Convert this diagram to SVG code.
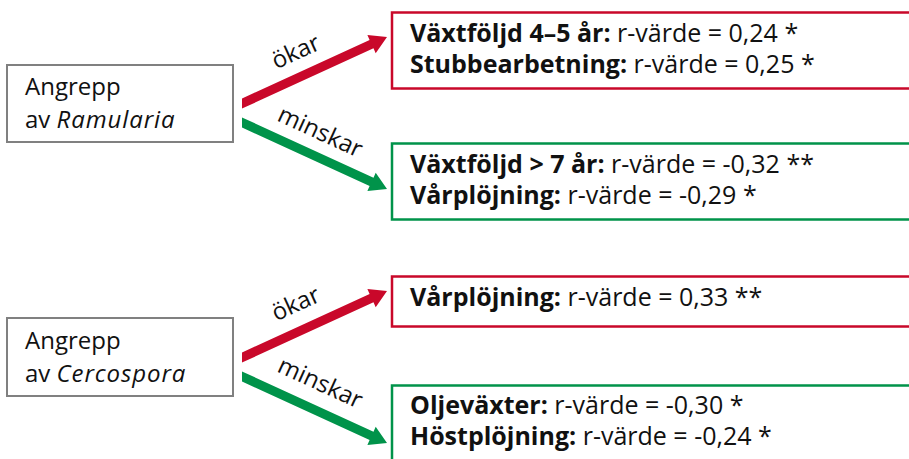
<svg xmlns="http://www.w3.org/2000/svg" width="909" height="459" viewBox="0 0 909 459">
  <style>
    .src { fill: #fff; stroke: #808080; stroke-width: 2; }
    .up { fill: #fff; stroke: #c9082a; stroke-width: 2.5; }
    .down { fill: #fff; stroke: #00934a; stroke-width: 2.5; }
    text { font-family: "Open Sans", "Liberation Sans", sans-serif; fill: #111; }
    .lbl { font-size: 24px; }
    .lbl tspan.sp { font-style: italic; letter-spacing: 0.9px; }
    .res { font-size: 25px; }
    .res tspan.k { font-weight: bold; }
    .edge { font-size: 24px; text-anchor: middle; }
    .a-up { fill: #c9082a; }
    .a-down { fill: #00934a; }
  </style>

  <!-- Ramularia -->
  <g id="ramularia">
    <rect class="src" x="7" y="65" width="226" height="77"/>
    <text class="lbl" x="25" y="95">Angrepp</text>
    <text class="lbl" x="25" y="128">av <tspan class="sp">Ramularia</tspan></text>
  </g>
  <g id="ramularia-okar">
    <rect class="up" x="392" y="12.5" width="530" height="76"/>
    <text class="res" x="410" y="42"><tspan class="k">Växtföljd 4–5 år:</tspan> r-värde = 0,24 *</text>
    <text class="res" x="410" y="73"><tspan class="k">Stubbearbetning:</tspan> r-värde = 0,25 *</text>
  </g>
  <g id="ramularia-minskar">
    <rect class="down" x="392" y="143.5" width="530" height="76"/>
    <text class="res" x="410" y="173"><tspan class="k">Växtföljd &gt; 7 år:</tspan> r-värde = -0,32 **</text>
    <text class="res" x="410" y="204"><tspan class="k">Vårplöjning:</tspan> r-värde = -0,29 *</text>
  </g>

  <!-- Cercospora -->
  <g id="cercospora">
    <rect class="src" x="7" y="318" width="226" height="78"/>
    <text class="lbl" x="25" y="349">Angrepp</text>
    <text class="lbl" x="25" y="382">av <tspan class="sp">Cercospora</tspan></text>
  </g>
  <g id="cercospora-okar">
    <rect class="up" x="392" y="276.5" width="530" height="50"/>
    <text class="res" x="410" y="306"><tspan class="k">Vårplöjning:</tspan> r-värde = 0,33 **</text>
  </g>
  <g id="cercospora-minskar">
    <rect class="down" x="392" y="385.5" width="530" height="90"/>
    <text class="res" x="410" y="414"><tspan class="k">Oljeväxter:</tspan> r-värde = -0,30 *</text>
    <text class="res" x="410" y="445"><tspan class="k">Höstplöjning:</tspan> r-värde = -0,24 *</text>
  </g>

  <!-- connectors -->
  <g id="connectors">
    <polygon class="a-up" points="242,98.4 369.6,39.9 367.4,35 387,37 375.7,53.2 373.5,48.3 242,108.6"/>
    <polygon class="a-down" points="242,117.4 373.5,177.7 375.7,172.8 387,189 367.4,191 369.6,186.1 242,127.6"/>
    <polygon class="a-up" points="242,352.4 369.6,293.9 367.4,289 387,291 375.7,307.2 373.5,302.3 242,362.6"/>
    <polygon class="a-down" points="242,371.4 373.5,431.7 375.7,426.8 387,443 367.4,445 369.6,440.1 242,381.6"/>
    <text class="edge" transform="translate(299,59) rotate(-24.6)">ökar</text>
    <text class="edge" transform="translate(317,139) rotate(24.6)">minskar</text>
    <text class="edge" transform="translate(299,311) rotate(-24.6)">ökar</text>
    <text class="edge" transform="translate(317,390) rotate(24.6)">minskar</text>
  </g>
</svg>
